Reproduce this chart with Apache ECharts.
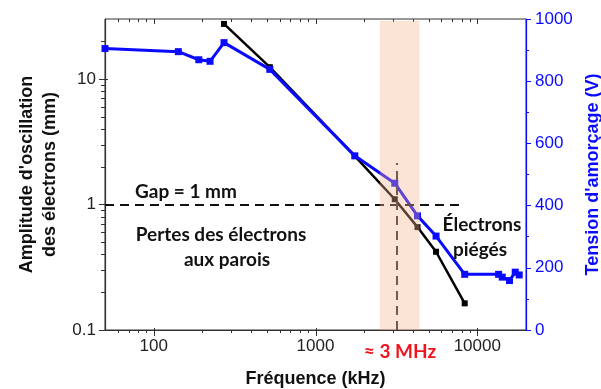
<!DOCTYPE html>
<html>
<head>
<meta charset="utf-8">
<script src="https://cdn.jsdelivr.net/npm/echarts@6/dist/echarts.min.js"></script>
<style>
  html, body { margin: 0; padding: 0; background: #fff; }
  #chart { width: 601px; height: 389px; }
</style>
</head>
<body>
<div id="chart"></div>
<script>
// Electron oscillation amplitude (mm) versus excitation frequency (kHz)
const freqAmplitude = [272, 522, 1750, 3090, 4270, 5560, 8360];
const amplitude = [27.4, 12.4, 2.43, 1.1, 0.66, 0.42, 0.163];

// Breakdown voltage (V) versus excitation frequency (kHz)
const freqVoltage = [50, 142, 190, 223, 272, 522, 1750, 3090, 4270, 5560, 8360, 13540, 14260, 15820, 17160, 18160];
const voltage = [905, 895, 869, 864, 924, 838, 560, 472, 367, 302, 179, 179, 170, 159, 186, 177];

// Axis ranges and tick values
const FREQ_MIN = 50, FREQ_MAX = 20000;
const AMP_MIN = 0.1, AMP_MAX = 30;
const VOLT_MIN = 0, VOLT_MAX = 1000, VOLT_STEP = 200;
const freqMajorTicks = [100, 1000, 10000];
const freqMinorTicks = [60, 70, 80, 90, 200, 300, 400, 500, 600, 700, 800, 900,
  2000, 3000, 4000, 5000, 6000, 7000, 8000, 9000];
const ampMajorTicks = [0.1, 1, 10];
const ampMinorTicks = [0.2, 0.3, 0.4, 0.5, 0.6, 0.7, 0.8, 0.9, 2, 3, 4, 5, 6, 7, 8, 9, 20];

// Reference levels
const GAP_MM = 1;              // electrode gap
const GAP_LINE_END = 8200;     // kHz, end of the gap line
const CUTOFF_KHZ = 3160;       // transition frequency
const CUTOFF_LINE_TOP = 2.14;  // mm
const BAND_KHZ = [2500, 4400]; // transition zone

const ARIAL = "'Liberation Sans', Arial, sans-serif";
const SANS = "Lato, 'Open Sans', sans-serif";
const BLUE = '#0a0aff';
const AXIS_DARK = '#333';

const pair = (xs, ys) => xs.map((x, i) => [x, ys[i]]);
const isDecade = v => { const e = Math.log10(v); return Math.abs(e - Math.round(e)) < 1e-6; };

function freqTick(params, api) {
  const v = api.value(0), major = api.value(1) === 1;
  const b = api.coord([v, AMP_MIN]);
  const t = api.coord([v, AMP_MAX]);
  const x = Math.round(b[0]) + 0.5;
  const style = { stroke: AXIS_DARK, lineWidth: 1 };
  return { type: 'group', children: [
    { type: 'line', shape: { x1: x, y1: b[1] - (major ? 2 : 0), x2: x, y2: b[1] + (major ? 6 : 3) }, style },
    { type: 'line', shape: { x1: x, y1: t[1], x2: x, y2: t[1] + (major ? 5 : 3) }, style }
  ]};
}

function ampTick(params, api) {
  const v = api.value(1), major = api.value(2) === 1;
  const p = api.coord([FREQ_MIN, v]);
  const y = Math.round(p[1]) + 0.5;
  return { type: 'line',
    shape: { x1: p[0] - (major ? 6 : 4), y1: y, x2: p[0] + (major ? 3 : 0), y2: y },
    style: { stroke: AXIS_DARK, lineWidth: 1 } };
}

function bandRect(params, api) {
  const a = api.coord([api.value(0), AMP_MAX * 0.97]);
  const b = api.coord([api.value(1), AMP_MIN]);
  return { type: 'rect', shape: { x: a[0], y: a[1], width: b[0] - a[0], height: b[1] - a[1] },
    style: { fill: 'rgba(245,178,138,0.36)' } };
}

const chart = echarts.init(document.getElementById('chart'), null, { renderer: 'canvas' });

chart.setOption({
  animation: false,
  backgroundColor: '#fff',
  grid: { left: 105, right: 75, top: 19, bottom: 59, show: true, outerBoundsMode: 'none',
    containLabel: false,
    borderColor: AXIS_DARK, borderWidth: 1, backgroundColor: 'transparent' },
  xAxis: {
    type: 'log', logBase: 10, min: FREQ_MIN, max: FREQ_MAX,
    axisLine: { show: true, lineStyle: { color: AXIS_DARK, width: 1.2 } },
    axisTick: { show: false },
    splitLine: { show: false },
    axisLabel: { show: true, formatter: v => isDecade(v) ? String(Math.round(v)) : '',
      fontSize: 17, color: '#222', fontFamily: ARIAL, margin: 8 },
    name: 'Fréquence (kHz)', nameLocation: 'middle', nameGap: 40,
    nameTextStyle: { fontSize: 18, fontWeight: 'bold', color: '#111', fontFamily: ARIAL }
  },
  yAxis: [
    {
      type: 'log', logBase: 10, min: AMP_MIN, max: AMP_MAX, position: 'left',
      axisLine: { show: true, lineStyle: { color: AXIS_DARK, width: 1.2 } },
      axisTick: { show: false },
      splitLine: { show: false },
      axisLabel: { show: true, formatter: v => isDecade(v) ? String(+v.toPrecision(3)) : '',
        fontSize: 17, color: '#222', fontFamily: ARIAL, margin: 9 },
      name: "Amplitude d'oscillation\ndes électrons (mm)", nameLocation: 'middle',
      nameGap: 38, nameRotate: 90,
      nameTextStyle: { fontSize: 18, fontWeight: 'bold', color: '#111', fontFamily: ARIAL,
        lineHeight: 23, align: 'center' }
    },
    {
      type: 'value', min: VOLT_MIN, max: VOLT_MAX, interval: VOLT_STEP, position: 'right',
      axisLine: { show: true, lineStyle: { color: BLUE, width: 1.2 } },
      axisTick: { show: true, length: 5, lineStyle: { color: BLUE, width: 1 } },
      minorTick: { show: true, splitNumber: 2, length: 3, lineStyle: { color: BLUE, width: 1 } },
      splitLine: { show: false },
      axisLabel: { show: true, formatter: v => String(v), fontSize: 17, color: BLUE,
        fontFamily: ARIAL, margin: 9 },
      name: "Tension d'amorçage (V)", nameLocation: 'middle', nameGap: 57, nameRotate: 90,
      nameTextStyle: { fontSize: 18, fontWeight: 'bold', color: BLUE, fontFamily: ARIAL }
    }
  ],
  series: [
    {
      type: 'custom', name: 'freqTicks', renderItem: freqTick, clip: false, silent: true, z: 1,
      data: freqMajorTicks.map(v => [v, 1]).concat(freqMinorTicks.map(v => [v, 0]))
    },
    {
      type: 'custom', name: 'ampTicks', renderItem: ampTick, clip: false, silent: true, z: 1,
      encode: { x: 0, y: 1 },
      data: ampMajorTicks.map(v => [FREQ_MIN, v, 1]).concat(ampMinorTicks.map(v => [FREQ_MIN, v, 0]))
    },
    {
      type: 'line', name: 'Amplitude', yAxisIndex: 0, z: 2,
      data: pair(freqAmplitude, amplitude),
      symbol: 'rect', symbolSize: 6,
      itemStyle: { color: '#000' },
      lineStyle: { color: '#000', width: 2.5 },
      markLine: {
        silent: true, symbol: 'none', label: { show: false }, z: 3,
        lineStyle: { color: '#111', width: 2, type: [9, 6] },
        data: [
          [{ coord: [FREQ_MIN, GAP_MM] }, { coord: [GAP_LINE_END, GAP_MM] }],
          [{ coord: [CUTOFF_KHZ, AMP_MIN] }, { coord: [CUTOFF_KHZ, CUTOFF_LINE_TOP], lineStyle: { color: '#2a2a2a' } }]
        ]
      }
    },
    {
      type: 'line', name: 'Tension', yAxisIndex: 1, z: 2,
      data: pair(freqVoltage, voltage),
      symbol: 'rect', symbolSize: 7,
      itemStyle: { color: BLUE },
      lineStyle: { color: BLUE, width: 3 }
    },
    {
      type: 'custom', name: 'band', renderItem: bandRect, clip: false, silent: true, z: 10,
      data: [BAND_KHZ]
    }
  ],
  graphic: [
    { type: 'text', z: 100, style: { x: 135, y: 192, text: 'Gap = 1 mm', textAlign: 'left',
      textVerticalAlign: 'middle', font: `bold 19px ${SANS}`, fill: '#111' } },
    { type: 'text', z: 100, style: { x: 221, y: 235, text: 'Pertes des électrons', textAlign: 'center',
      textVerticalAlign: 'middle', font: `bold 19px ${SANS}`, fill: '#111' } },
    { type: 'text', z: 100, style: { x: 227, y: 260, text: 'aux parois', textAlign: 'center',
      textVerticalAlign: 'middle', font: `bold 19px ${SANS}`, fill: '#111' } },
    { type: 'text', z: 100, style: { x: 482, y: 225, text: 'Électrons', textAlign: 'center',
      textVerticalAlign: 'middle', font: `bold 19px ${SANS}`, fill: '#111' } },
    { type: 'text', z: 100, style: { x: 480, y: 250, text: 'piégés', textAlign: 'center',
      textVerticalAlign: 'middle', font: `bold 19px ${SANS}`, fill: '#111' } },
    { type: 'text', z: 100, style: { x: 400, y: 352, text: '≈ 3 MHz', textAlign: 'center',
      textVerticalAlign: 'middle', font: `bold 19px ${SANS}`, fill: '#f0141e' } }
  ]
});
</script>
</body>
</html>
